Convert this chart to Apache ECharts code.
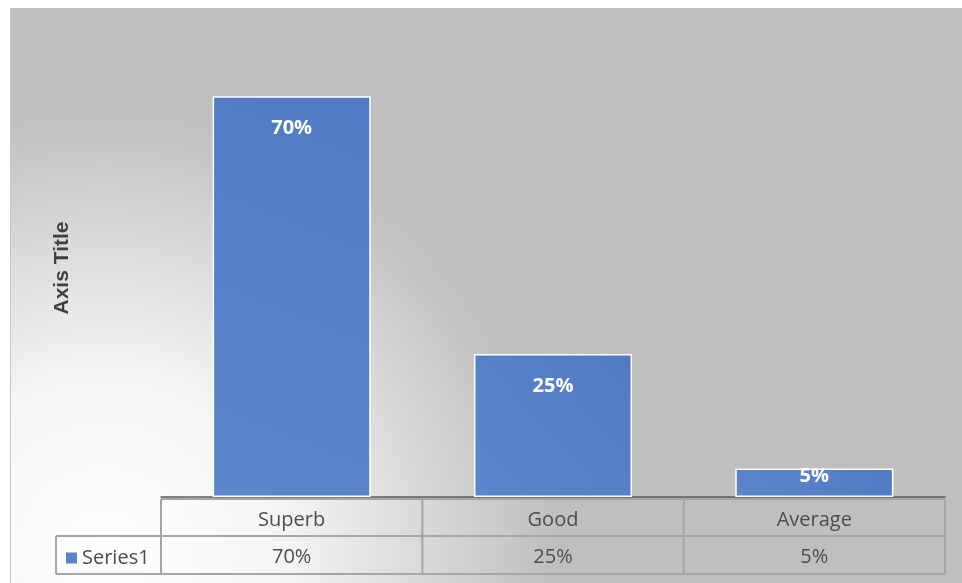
<!DOCTYPE html>
<html>
<head>
<meta charset="utf-8">
<script src="https://cdn.jsdelivr.net/npm/echarts@6/dist/echarts.min.js"></script>
<style>html,body{margin:0;padding:0;background:#fff;}#c{width:962px;height:583px;}</style>
</head>
<body>
<div id="c"></div>
<script>
const categories = ['Superb', 'Good', 'Average'];
const values = [0.70, 0.25, 0.05];
const seriesName = 'Series1';
const axisTitle = 'Axis Title';

const pct = v => Math.round(v * 100) + '%';
const FONT = '"Open Sans", sans-serif';
const TXT = '#4d4d4d';
const LINE = '#a6a6a6';

// layout of plot / data table
const G = { left: 161, right: 945, top: 39, bottom: 497 };
const tableTop = 499, row1 = 536, row2 = 574, legendLeft = 56;
const colW = (G.right - G.left) / categories.length;

const chart = echarts.init(document.getElementById('c'), null, { renderer: 'canvas' });

const graphics = [
  {
    type: 'rect', z: -10, silent: true,
    shape: { x: 10, y: 8, width: 952, height: 575 },
    style: {
      fill: {
        type: 'radial', x: 0.1, y: 0.95, r: 0.78,
        colorStops: [
          { offset: 0, color: '#ffffff' },
          { offset: 0.4, color: '#f5f5f5' },
          { offset: 1, color: '#bfbfbf' }
        ]
      }
    }
  },
  { type: 'line', silent: true, shape: { x1: 10.5, y1: 8, x2: 10.5, y2: 583 }, style: { stroke: '#c8c8c8', lineWidth: 1 } }
];
function hline(x1, x2, y) { graphics.push({ type: 'line', silent: true, z: 5, shape: { x1, y1: y, x2, y2: y }, style: { stroke: LINE, lineWidth: 2 } }); }
function vline(x, y1, y2) { graphics.push({ type: 'line', silent: true, z: 5, shape: { x1: x, y1, x2: x, y2 }, style: { stroke: LINE, lineWidth: 2 } }); }
hline(G.left, G.right, tableTop);
hline(legendLeft, G.right, row1);
hline(legendLeft, G.right, row2);
for (let i = 0; i <= categories.length; i++) vline(G.left + colW * i, tableTop, row2);
vline(legendLeft, row1, row2);

const barData = values.map((v, i) => {
  const item = { value: v };
  if (v < 0.1) item.label = { distance: -2 };
  return item;
});

chart.setOption({
  animation: false,
  backgroundColor: '#ffffff',
  graphic: graphics,
  legend: {
    data: [seriesName],
    left: 61, top: 543,
    icon: 'rect', itemWidth: 11, itemHeight: 11, itemGap: 6,
    itemStyle: { borderWidth: 0, color: '#5a84ca' },
    textStyle: { fontFamily: FONT, fontSize: 20, color: TXT }
  },
  grid: { left: G.left, right: 962 - G.right, top: G.top, bottom: 583 - G.bottom, containLabel: false },
  xAxis: [
    {
      type: 'category', data: categories,
      axisLine: { show: true, lineStyle: { color: '#595959', width: 1.5 } },
      axisTick: { show: false },
      axisLabel: { fontFamily: FONT, fontSize: 20, color: TXT, margin: 13 },
      splitLine: { show: false }
    },
    {
      type: 'category', data: categories, position: 'bottom', offset: 37,
      axisLine: { show: false }, axisTick: { show: false },
      axisLabel: { fontFamily: FONT, fontSize: 20, color: TXT, margin: 13, formatter: (v, i) => pct(values[i]) },
      splitLine: { show: false }
    }
  ],
  yAxis: {
    type: 'value', min: 0, max: 0.8, interval: 0.1,
    name: axisTitle, nameLocation: 'middle', nameGap: 88,
    nameTextStyle: { fontFamily: '"Liberation Sans", Arial, sans-serif', fontWeight: 'bold', fontSize: 21, color: '#404040' },
    axisLine: { show: false }, axisTick: { show: false }, axisLabel: { show: false }, splitLine: { show: false }
  },
  series: [{
    name: seriesName, type: 'bar', xAxisIndex: 0,
    data: barData,
    barWidth: '60.5%',
    itemStyle: {
      color: { type: 'linear', x: 0, y: 1, x2: 1, y2: 0, colorStops: [{ offset: 0, color: '#5c86cb' }, { offset: 1, color: '#507bc4' }] },
      borderColor: '#ffffff', borderWidth: 1.5
    },
    label: {
      show: true, position: 'insideTop', distance: 22,
      formatter: p => pct(p.value),
      fontFamily: FONT, fontWeight: 'bold', fontSize: 20, color: '#ffffff'
    }
  }]
});
</script>
</body>
</html>
